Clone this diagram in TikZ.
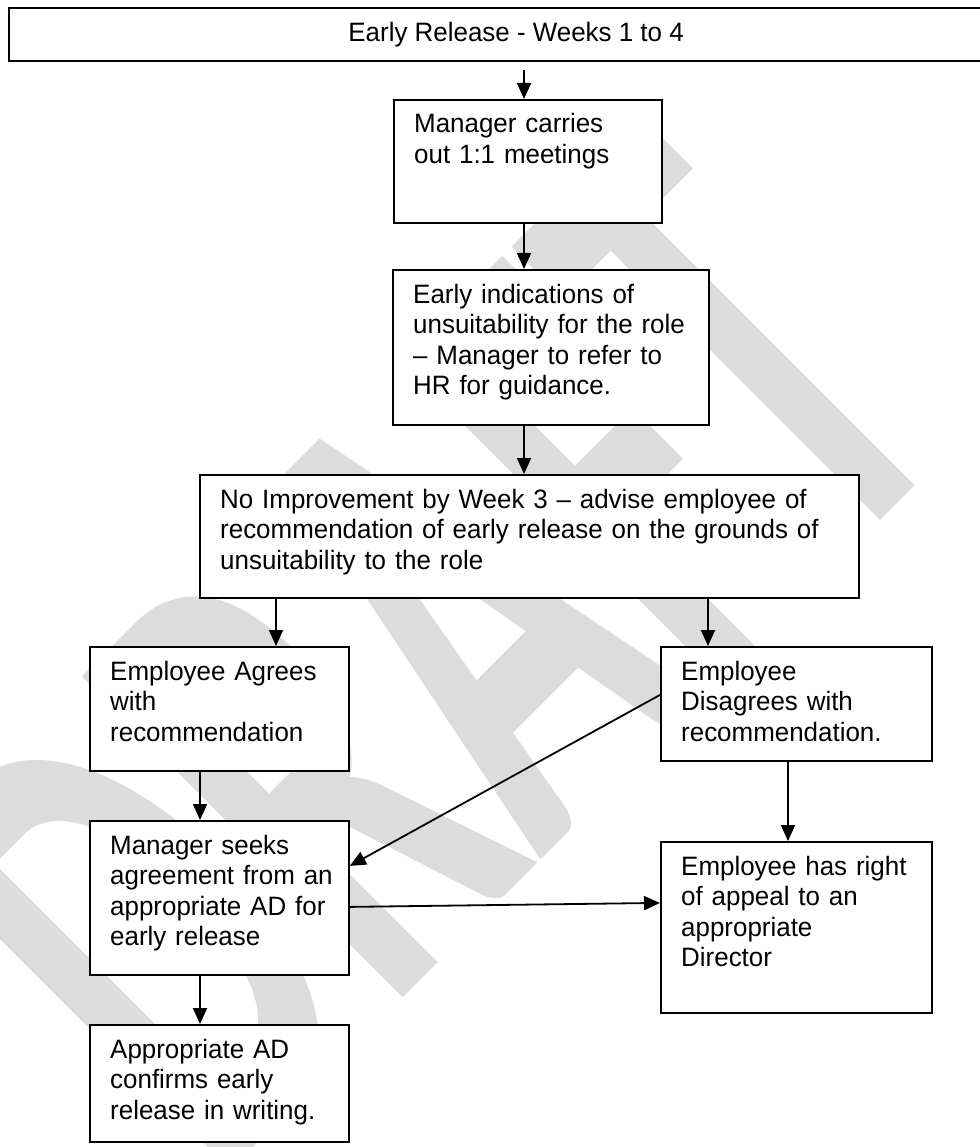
\documentclass[tikz,border=0pt]{standalone}
\usepackage{fontspec}
\setmainfont{Liberation Sans}
\newfontfamily\wmfont{Carlito}
\usetikzlibrary{arrows.meta,calc}
\definecolor{wm}{RGB}{220,220,220}
\begin{document}
\begin{tikzpicture}[x=1pt,y=-1pt,
  box/.style={draw, fill=white, line width=1.8pt, inner sep=0pt, anchor=north west},
  txt/.style={anchor=base west, inner sep=0pt, text width=640pt, align=left,
              font=\fontsize{26.6}{30.6}\selectfont\addfontfeature{FakeStretch=0.975}},
  arr/.style={line width=1.8pt, -{Triangle[width=14pt,length=16pt]}}]
\useasboundingbox (0,0) rectangle (979,1147);
% watermark
\node[rotate=45, xscale=0.55, transform shape, text=wm, inner sep=0pt,
      font=\wmfont\bfseries\fontsize{700}{700}\selectfont] (wmk) at (430,650) {DRAFT};
% boxes
\node[box, line width=2.2pt, minimum width=1014pt, minimum height=53pt,
      font=\fontsize{26.6}{30.6}\selectfont\addfontfeature{FakeStretch=0.975}] (top) at (8,7) {Early Release - Weeks 1 to 4};
\node[box, minimum width=268pt, minimum height=123pt] (m1) at (393,99) {};
\node[box, minimum width=316pt, minimum height=155pt] (ind) at (392,269) {};
\node[box, minimum width=659pt, minimum height=123pt] (noimp) at (199,474) {};
\node[box, minimum width=259pt, minimum height=124pt] (agree) at (89,646) {};
\node[box, minimum width=271pt, minimum height=114pt] (disagree) at (660,646) {};
\node[box, minimum width=259pt, minimum height=154pt] (seek) at (89,820) {};
\node[box, minimum width=271pt, minimum height=171pt] (appeal) at (660,841) {};
\node[box, minimum width=259pt, minimum height=117pt] (confirm) at (89,1024) {};
% texts
\node[txt] (m1t) at ($(m1.north west)+(21,34)$) {Manager carries\\out 1:1 meetings};
\node[txt] (indt) at ($(ind.north west)+(21,34)$) {Early indications of\\unsuitability for the role\\– Manager to refer to\\HR for guidance.};
\node[txt] (noimpt) at ($(noimp.north west)+(21,34)$) {No Improvement by Week 3 – advise employee of\\recommendation of early release on the grounds of\\unsuitability to the role};
\node[txt] (agreet) at ($(agree.north west)+(21,34)$) {Employee Agrees\\with\\recommendation};
\node[txt] (disagreet) at ($(disagree.north west)+(21,34)$) {Employee\\Disagrees with\\recommendation.};
\node[txt] (seekt) at ($(seek.north west)+(21,34)$) {Manager seeks\\agreement from an\\appropriate AD for\\early release};
\node[txt] (appealt) at ($(appeal.north west)+(21,34)$) {Employee has right\\of appeal to an\\appropriate\\Director};
\node[txt] (confirmt) at ($(confirm.north west)+(21,34)$) {Appropriate AD\\confirms early\\release in writing.};
% connector columns
\coordinate (c1) at (524,0);
\coordinate (c2) at (276,0);
\coordinate (c3) at (708,0);
\coordinate (c4) at (200,0);
\coordinate (c5) at (788,0);
% connectors
\draw[arr] ([yshift=-8pt]top.south -| c1) -- (m1.north -| c1);
\draw[arr] (m1.south -| c1) -- (ind.north -| c1);
\draw[arr] (ind.south -| c1) -- (noimp.north -| c1);
\draw[arr] (noimp.south -| c2) -- (agree.north -| c2);
\draw[arr] (noimp.south -| c3) -- (disagree.north -| c3);
\draw[arr] (agree.south -| c4) -- (seek.north -| c4);
\draw[arr] (seek.south -| c4) -- (confirm.north -| c4);
\draw[arr] (disagree.south -| c5) -- (appeal.north -| c5);
\draw[arr] ([yshift=9pt]disagree.west) -- ([yshift=32pt]seek.east);
\draw[arr] ([yshift=-9pt]seek.east) -- ([yshift=24.5pt]appeal.west);
\end{tikzpicture}
\end{document}
